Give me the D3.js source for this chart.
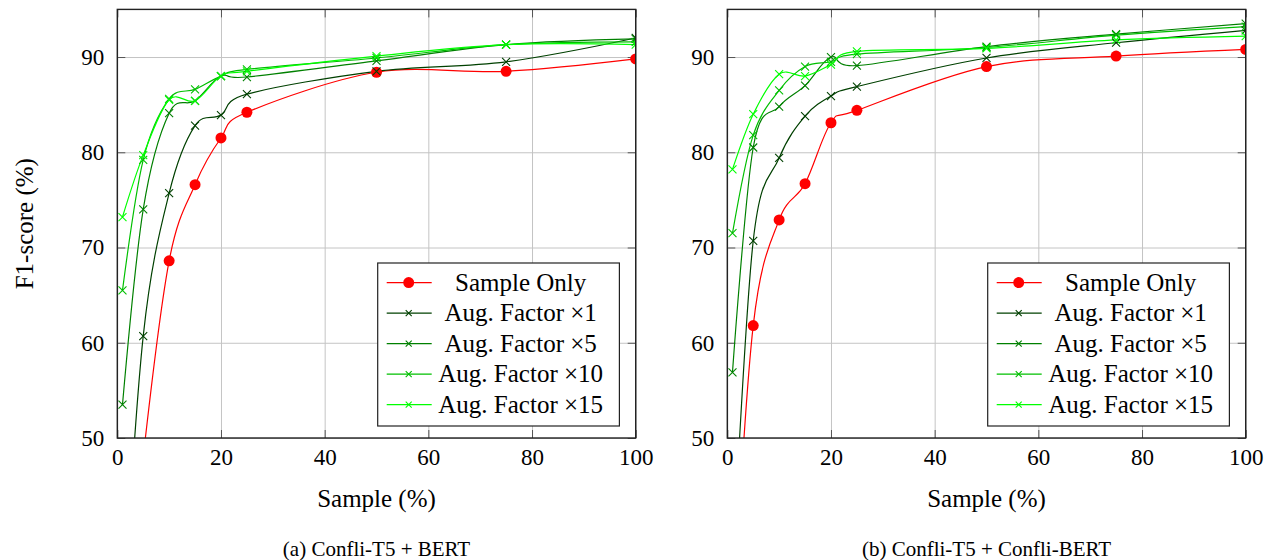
<html>
<script src="https://d3js.org/d3.v7.min.js"></script>
<style>
body { margin: 0; background: #fff; }
text { font-family: "Liberation Serif", "Times New Roman", serif; fill: #000; }
</style>
<body>
<svg width="1272" height="560"></svg>
<script>
// sample sizes (%) on the x axis
var sampleX = [1, 5, 10, 15, 20, 25, 50, 75, 100];
var xTicks = [0, 20, 40, 60, 80, 100];
var yTicks = [50, 60, 70, 80, 90];
var seriesNames = ["Sample Only", "Aug. Factor \u00d71", "Aug. Factor \u00d75", "Aug. Factor \u00d710", "Aug. Factor \u00d715"];

// (a) Confli-T5 + BERT
var bertSampleOnly = [25, 48, 68.6, 76.6, 81.5, 84.2, 88.4, 88.5, 89.8];
var bertAug1  = [30, 60.7, 75.7, 82.8, 83.9, 86.1, 88.5, 89.5, 92.0];
var bertAug5  = [53.5, 74.0, 84.1, 85.4, 88.0, 87.9, 89.6, 91.3, 91.9];
var bertAug10 = [65.5, 79.2, 85.6, 86.6, 88.0, 88.7, 89.9, 91.3, 91.6];
var bertAug15 = [73.2, 79.7, 85.5, 85.4, 88.0, 88.5, 90.1, 91.3, 91.3];

// (b) Confli-T5 + Confli-BERT
var confliSampleOnly = [30, 61.8, 72.9, 76.7, 83.1, 84.4, 89.0, 90.1, 90.8];
var confliAug1  = [36, 70.7, 79.4, 83.8, 85.9, 86.9, 89.9, 91.5, 92.8];
var confliAug5  = [56.9, 80.5, 84.8, 87.0, 90.0, 89.1, 91.1, 92.4, 93.5];
var confliAug10 = [71.5, 81.8, 86.5, 89.0, 89.5, 90.3, 91.0, 92.3, 93.2];
var confliAug15 = [78.2, 84.0, 88.2, 88.0, 89.2, 90.6, 90.9, 91.8, 92.2];

var colors = ["#ff0000", "rgb(0,64,0)", "rgb(0,128,0)", "rgb(0,191,0)", "rgb(0,255,0)"];

var svg = d3.select("svg");
var plotW = 518.4, plotH = 428.6, plotTop = 9.4;

function drawPanel(left, id, series, caption, yLabel) {
  var x = d3.scaleLinear().domain([0, 100]).range([0, plotW]);
  var y = d3.scaleLinear().domain([50, 95]).range([plotH, 0]);
  var g = svg.append("g").attr("transform", "translate(" + left + "," + plotTop + ")");

  // grid
  g.append("g").attr("transform", "translate(0," + plotH + ")")
    .call(d3.axisBottom(x).tickValues(xTicks).tickSize(-plotH).tickFormat(""))
    .call(function(s){ s.select(".domain").remove(); s.selectAll("line").attr("stroke", "#c4c4c4"); });
  g.append("g")
    .call(d3.axisLeft(y).tickValues(yTicks).tickSize(-plotW).tickFormat(""))
    .call(function(s){ s.select(".domain").remove(); s.selectAll("line").attr("stroke", "#c4c4c4"); });

  // tick marks (inside) and labels
  var marks = [];
  marks.push(g.append("g").attr("transform", "translate(0," + plotH + ")")
    .call(d3.axisBottom(x).tickValues(xTicks).tickSize(-8).tickPadding(11)));
  marks.push(g.append("g")
    .call(d3.axisLeft(y).tickValues(yTicks).tickSize(-8).tickPadding(13)));
  marks.push(g.append("g").call(d3.axisTop(x).tickValues(xTicks).tickSize(-8).tickFormat("")));
  marks.push(g.append("g").attr("transform", "translate(" + plotW + ",0)")
    .call(d3.axisRight(y).tickValues(yTicks).tickSize(-8).tickFormat("")));
  marks.forEach(function(a){
    a.select(".domain").remove();
    a.selectAll(".tick line").attr("stroke", "#555");
    a.selectAll(".tick text").style("font-family", "Liberation Serif").style("font-size", "23px").attr("fill", "#000");
  });

  // clip
  svg.append("clipPath").attr("id", id).append("rect").attr("width", plotW).attr("height", plotH);
  var plot = g.append("g").attr("clip-path", "url(#" + id + ")");

  var line = d3.line().x(function(d, i){ return x(sampleX[i]); }).y(function(d){ return y(d); })
    .curve(d3.curveCardinal.tension(0));

  series.forEach(function(vals, k) {
    plot.append("path").datum(vals).attr("d", line)
      .attr("fill", "none").attr("stroke", colors[k]).attr("stroke-width", 1.2);
  });
  series.forEach(function(vals, k) {
    var m = plot.append("g").selectAll("g").data(vals).enter().append("g")
      .attr("transform", function(d, i){ return "translate(" + x(sampleX[i]) + "," + y(d) + ")"; });
    if (k == 0) {
      m.append("circle").attr("r", 5.5).attr("fill", colors[k]);
    } else {
      m.append("path").attr("d", "M-4,-4L4,4M-4,4L4,-4").attr("stroke", colors[k]).attr("stroke-width", 1.1);
    }
  });

  // frame
  g.append("rect").attr("width", plotW).attr("height", plotH)
    .attr("fill", "none").attr("stroke", "#222").attr("stroke-width", 1.4);

  // legend
  var lg = g.append("g").attr("transform", "translate(" + (plotW - 258) + "," + (263 - plotTop) + ")");
  lg.append("rect").attr("width", 241.7).attr("height", 163).attr("fill", "#fff")
    .attr("stroke", "#222").attr("stroke-width", 1.2);
  seriesNames.forEach(function(name, k) {
    var cy = 19.6 + k * 30.5;
    lg.append("line").attr("x1", 9).attr("x2", 54).attr("y1", cy).attr("y2", cy)
      .attr("stroke", colors[k]).attr("stroke-width", 1.2);
    if (k == 0) lg.append("circle").attr("cx", 31).attr("cy", cy).attr("r", 5.5).attr("fill", colors[k]);
    else lg.append("path").attr("transform", "translate(31," + cy + ")")
      .attr("d", "M-3,-3L3,3M-3,3L3,-3").attr("stroke", colors[k]).attr("stroke-width", 1.1);
    lg.append("text").attr("x", 143).attr("y", cy + 8.3).attr("text-anchor", "middle")
      .style("font-size", "25px").text(name);
  });

  // axis label and caption
  g.append("text").attr("x", plotW / 2).attr("y", 507 - plotTop).attr("text-anchor", "middle")
    .style("font-size", "25px").text("Sample (%)");
  g.append("text").attr("x", plotW / 2).attr("y", 556 - plotTop).attr("text-anchor", "middle")
    .style("font-size", "21px").text(caption);
  if (yLabel) {
    g.append("text").attr("transform", "translate(-84," + (plotH / 2) + ") rotate(-90)")
      .attr("text-anchor", "middle").style("font-size", "25px").text(yLabel);
  }
}

drawPanel(117.3, "clipA", [bertSampleOnly, bertAug1, bertAug5, bertAug10, bertAug15], "(a) Confli-T5 + BERT", "F1-score (%)");
drawPanel(727.3, "clipB", [confliSampleOnly, confliAug1, confliAug5, confliAug10, confliAug15], "(b) Confli-T5 + Confli-BERT", null);
</script>
</body>
</html>
